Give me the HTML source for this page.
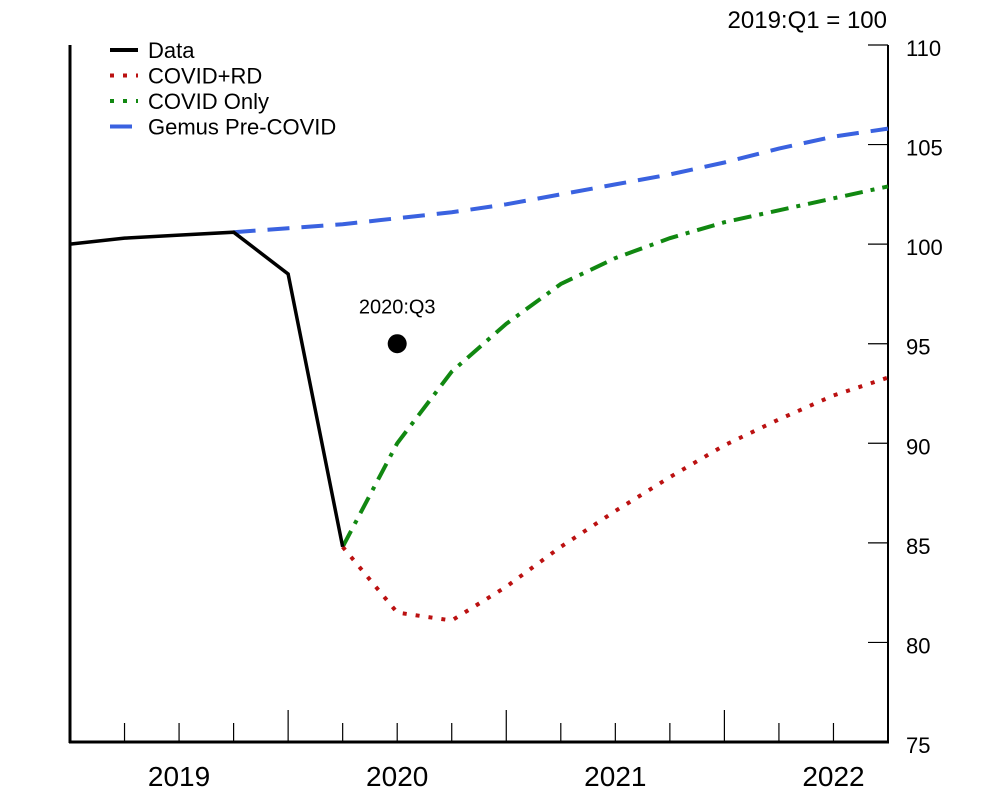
<!DOCTYPE html>
<html><head><meta charset="utf-8"><style>
body{margin:0;background:#fff}
svg text{font-family:"Liberation Sans",Arial,sans-serif}
</style></head><body>
<svg id="chart" width="1000" height="798" viewBox="0 0 1000 798" xmlns="http://www.w3.org/2000/svg"></svg>
<script>
const dataVals=[100,100.3,100.45,100.6,98.5,84.8];
const preCovid=[100.6,100.8,101.0,101.3,101.6,102.0,102.5,103.0,103.5,104.1,104.8,105.4,105.8];
const covidOnly=[84.8,90.0,93.6,96.0,98.0,99.3,100.3,101.1,101.7,102.3,102.9];
const covidRD=[84.8,81.5,81.1,82.8,84.8,86.6,88.3,89.9,91.2,92.4,93.3];
const yTicks=[75,80,85,90,95,100,105,110];
const yearLabels=["2019","2020","2021","2022"];
const yearPos=[2,6,10,14];
const marker={q:6,v:95,label:"2020:Q3"};
const NS="http://www.w3.org/2000/svg";
const svg=document.getElementById('chart');
const X0=70,X1=888,Y0=742,Y1=45;
const x=q=>X0+q*(X1-X0)/15;
const y=v=>Y0-(v-75)*(Y0-Y1)/35;
function el(t,a,p){const e=document.createElementNS(NS,t);for(const k in a)e.setAttribute(k,a[k]);(p||svg).appendChild(e);return e;}
function txt(s,a){const e=el('text',a);e.textContent=s;return e;}
let e=el('line',{x1:X0,y1:Y1,x2:X0,y2:Y0+1,stroke:'#000','stroke-width':3});

e=el('line',{x1:X0-1,y1:Y0,x2:X1+1,y2:Y0,stroke:'#000','stroke-width':3});

e=el('line',{x1:X1,y1:Y1,x2:X1,y2:Y0,stroke:'#000','stroke-width':2});

for(let q=1;q<15;q++){
  const tall=q%4===0;
  e=el('line',{x1:x(q),x2:x(q),y1:tall?710:723,y2:Y0,stroke:'#000','stroke-width':1.2});
  
}
yearLabels.forEach((l,i)=>{
  e=txt(l,{x:x(yearPos[i]),y:786,'font-size':28,'text-anchor':'middle'});
  
});
yTicks.forEach(v=>{
  e=el('line',{x1:X1-20,x2:X1,y1:y(v),y2:y(v),stroke:'#000','stroke-width':1.2});
  
  e=txt(String(v),{x:906,y:y(v)+11,'font-size':22});
  
});
e=txt("2019:Q1 = 100",{x:887,y:28,'font-size':24,'text-anchor':'end'});

function series(vals,start,stroke,dash,w,name){
  const pts=vals.map((v,i)=>x(start+i)+','+y(v)).join(' ');
  const p=el('polyline',{points:pts,fill:'none',stroke:stroke,'stroke-width':w,'stroke-dasharray':dash||'none'});
  
}
series(preCovid,3,'#3a62e0','22,12',4,'gemus-pre-covid-line');
series(covidOnly,5,'#118811','18,8,4,8',4,'covid-only-line');
series(covidRD,5,'#bb1111','4,9',4,'covid-rd-line');
series(dataVals,0,'#000',null,3.5,'data-line');
e=el('circle',{cx:x(marker.q),cy:y(marker.v),r:9.5,fill:'#000'});

e=txt(marker.label,{x:x(marker.q),y:y(marker.v)-30,'font-size':20,'text-anchor':'middle'});

const leg=[["Data",'#000',null],["COVID+RD",'#bb1111','4,9'],["COVID Only",'#118811','4,9'],["Gemus Pre-COVID",'#3a62e0','22,12']];
leg.forEach((l,i)=>{
  const yy=50+i*25.5;
  e=el('line',{x1:110,x2:138,y1:yy,y2:yy,stroke:l[1],'stroke-width':4,'stroke-dasharray':l[2]||'none'});
  
  e=txt(l[0],{x:148,y:yy+8,'font-size':22});
  
});
</script>
</body></html>
